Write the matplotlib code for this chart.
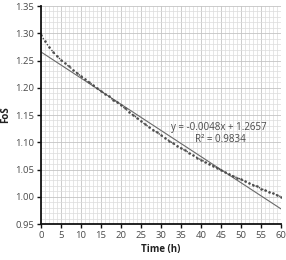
import matplotlib
matplotlib.use("Agg")
import matplotlib.pyplot as plt
import numpy as np
from matplotlib.ticker import MultipleLocator

time_h = list(range(0, 61))
fos = [1.297, 1.285, 1.275, 1.266, 1.258, 1.251, 1.245, 1.239, 1.233, 1.227,
       1.221, 1.216, 1.210, 1.205, 1.199, 1.194, 1.189, 1.184, 1.178, 1.173,
       1.168, 1.162, 1.156, 1.150, 1.145, 1.139, 1.133, 1.128, 1.123, 1.118,
       1.113, 1.108, 1.103, 1.098, 1.094, 1.089, 1.085, 1.081, 1.076, 1.072,
       1.068, 1.064, 1.061, 1.057, 1.053, 1.049, 1.045, 1.042, 1.038, 1.035,
       1.032, 1.028, 1.025, 1.022, 1.019, 1.015, 1.012, 1.009, 1.006, 1.003,
       1.000]
trend_slope = -0.0048
trend_intercept = 1.2657
r_squared = 0.9834
x_ticks = [0, 5, 10, 15, 20, 25, 30, 35, 40, 45, 50, 55, 60]
y_ticks = [0.95, 1.00, 1.05, 1.10, 1.15, 1.20, 1.25, 1.30, 1.35]

plt.rcParams['font.family'] = ['Open Sans', 'DejaVu Sans']

fig = plt.figure(figsize=(2.86, 2.60), dpi=100)
ax = fig.add_axes([41/286, 36/260, 240/286, 218/260])

ax.set_xlim(0, 60)
ax.set_ylim(0.95, 1.35)
ax.xaxis.set_minor_locator(MultipleLocator(1))
ax.yaxis.set_minor_locator(MultipleLocator(0.01))
ax.set_xticks(x_ticks)
ax.set_yticks(y_ticks)
ax.set_xticklabels([str(t) for t in x_ticks])
ax.set_yticklabels([f"{t:.2f}" for t in y_ticks])
ax.grid(which='minor', color='#dcdcdc', linewidth=0.5)
ax.grid(which='major', color='#c4c4c4', linewidth=0.6)
ax.set_axisbelow(True)

for s in ['top', 'right']:
    ax.spines[s].set_visible(False)
for s in ['left', 'bottom']:
    ax.spines[s].set_color('#111111')
    ax.spines[s].set_linewidth(1.3)

ax.tick_params(which='major', direction='out', length=3, width=1, colors='#111111',
               labelsize=6.8, labelcolor='#4a4a4a', pad=2)
ax.tick_params(which='minor', length=0)

tx = np.array([0, 60])
ax.plot(tx, trend_intercept + trend_slope * tx, color='#6a6a6a', linewidth=0.8)
ax.plot(time_h, fos, color='#4a4a4a', linestyle=':', linewidth=1.0,
        marker='o', markersize=1.8, markeredgewidth=0)

ax.text(44.5, 1.1276, f"y = {trend_slope}x + {trend_intercept}", ha='center',
        va='center', fontsize=7, color='#4a4a4a')
ax.text(44.8, 1.1055, f"R² = {r_squared}", ha='center', va='center',
        fontsize=7, color='#4a4a4a')

ax.set_xlabel('Time (h)', fontsize=7, fontweight='bold', color='#202020', labelpad=3)
ax.set_ylabel('FoS', fontsize=7, fontweight='bold', color='#202020')
ax.yaxis.set_label_coords(-0.125, 0.5)

fig.savefig('out.png', dpi=100)
